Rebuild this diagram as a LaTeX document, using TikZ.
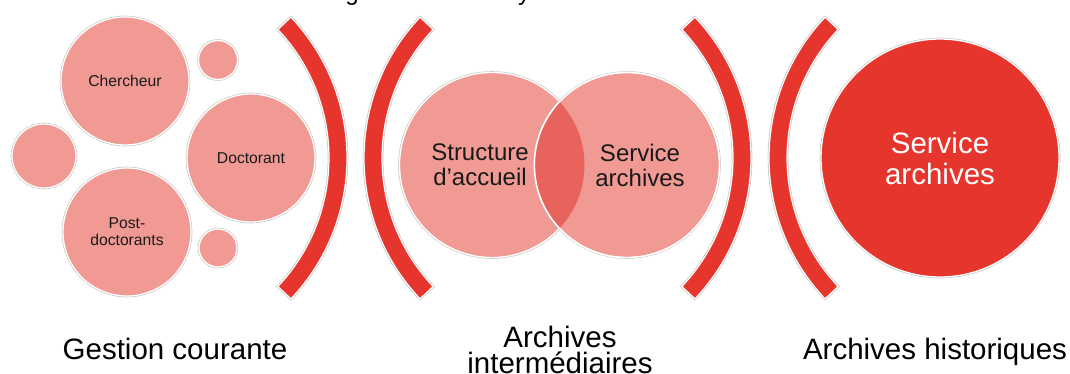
\documentclass[tikz,border=0pt]{standalone}
\usepackage{fontspec}
\setmainfont{Liberation Sans}
\definecolor{pinkf}{RGB}{241,154,148}
\definecolor{redf}{RGB}{229,53,45}
\definecolor{lensf}{RGB}{233,99,93}
\definecolor{txt}{RGB}{25,25,25}
\begin{document}
\begin{tikzpicture}[x=1pt,y=-1pt,
  halo/.style={preaction={draw=black!22, line width=2.6pt}},
  circ/.style={circle, inner sep=0pt, draw=white, line width=1.3pt, halo},
  pinkc/.style={circ, fill=pinkf},
  redc/.style={circ, fill=redf},
  bracket/.style={fill=redf, draw=white, line width=1.2pt, line join=miter, halo},
  sm/.style={font=\fontsize{15.7}{17}\selectfont, text=txt, align=center, inner sep=0pt},
  md/.style={font=\fontsize{24}{25}\selectfont, text=txt, align=center, inner sep=0pt},
  lg/.style={font=\fontsize{29.5}{31}\selectfont, align=center, inner sep=0pt},
  lbl/.style={font=\fontsize{29.5}{26}\selectfont, text=black, align=center, inner sep=0pt}]
\useasboundingbox (0,0) rectangle (1070,374);
\fill[white] (0,0) rectangle (1070,374);

% cut-off title fragments
\begin{scope}
\clip (0,0) rectangle (1070,374);
\node[font=\fontsize{24}{24}\selectfont, anchor=base, inner sep=0pt] (tg) at (352,1) {g};
\node[font=\fontsize{24}{24}\selectfont, anchor=base, inner sep=0pt] (ty) at (524,1) {y};
\end{scope}

% group 1: gestion courante
\node[pinkc, minimum size=128pt, sm] (cher) at (125,81) {Chercheur};
\node[pinkc, minimum size=128pt, sm] (doct) at (251,158) {Doctorant};
\node[pinkc, minimum size=128pt, sm] (post) at (127,232) {Post-\\doctorants};
\node[pinkc, minimum size=64pt] (s1) at (44,156) {};
\node[pinkc, minimum size=39pt] (s2) at (218,60) {};
\node[pinkc, minimum size=38pt] (s3) at (218,248) {};

% brackets
\foreach \cx/\ang in {142/0, 569/180, 546/0, 974/180}{
  \path[bracket] (\cx,158) ++(\ang-43.4:205)
    arc[start angle=\ang-43.4, end angle=\ang+43.4, radius=205]
    -- ++(\ang+43.4:-18)
    arc[start angle=\ang+43.4, end angle=\ang-43.4, radius=187]
    -- cycle;
}

% group 2: venn
\node[pinkc, minimum size=185pt] (struct) at (492,165) {};
\node[pinkc, minimum size=185pt] (serv) at (627,165) {};
\begin{scope}
\clip (492,165) circle[radius=92.5];
\fill[lensf] (627,165) circle[radius=92.5];
\end{scope}
\draw[white, line width=1.3pt] (serv.center) circle[radius=92.5];
\node[md] (structT) at (480,165) {Structure\\d’accueil};
\node[md] (servT) at (640,165) {Service\\archives};

% group 3
\node[redc, minimum size=238pt] (arch) at (940,158) {};
\node[lg, text=white] (archT) at (arch.center) {Service\\archives};

% labels
\node[lbl, anchor=base] (l1) at (175,359) {Gestion courante};
\node[lbl, anchor=south] (l2) at (560,373.5) {Archives\\intermédiaires};
\node[lbl, anchor=base] (l3) at (935,359) {Archives historiques};
\end{tikzpicture}
\end{document}
